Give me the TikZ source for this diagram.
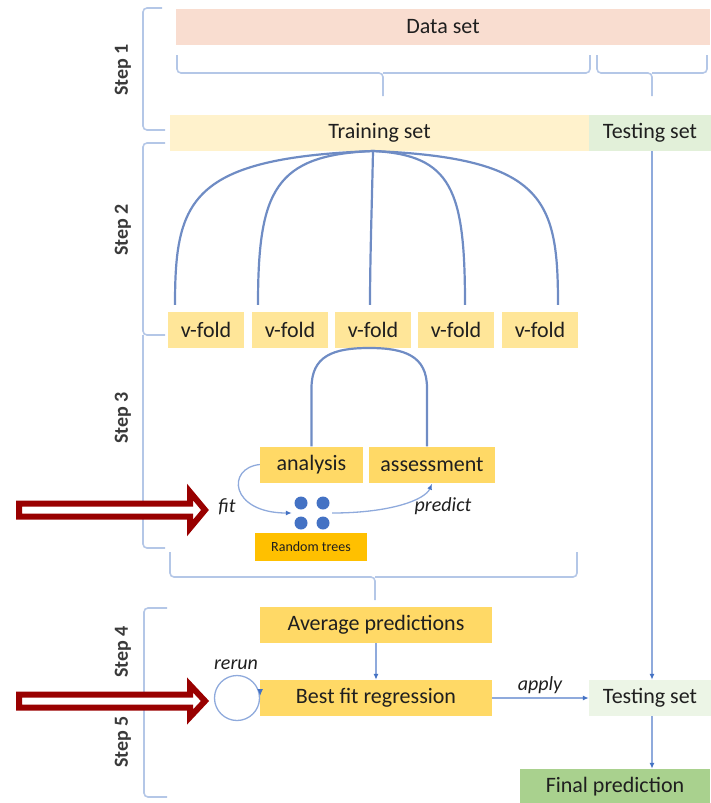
\documentclass[tikz,border=0pt]{standalone}
\usepackage{fontspec}
\setmainfont{Carlito}
\usetikzlibrary{arrows.meta,calc}
\definecolor{dataSalmon}{HTML}{F9DDD0}
\definecolor{trainCream}{HTML}{FFF2CC}
\definecolor{testMint}{HTML}{E2F0D9}
\definecolor{testPale}{HTML}{ECF5E6}
\definecolor{foldGold}{HTML}{FFE699}
\definecolor{stepGold}{HTML}{FFD966}
\definecolor{treeAmber}{HTML}{FFC000}
\definecolor{finalGreen}{HTML}{A9D18E}
\definecolor{splitBlue}{HTML}{6F8CC4}
\definecolor{flowBlue}{HTML}{8FAADC}
\definecolor{tipBlue}{HTML}{4472C4}
\definecolor{frameBlue}{HTML}{B4C7E7}
\definecolor{markRed}{HTML}{990000}
\definecolor{inkGray}{HTML}{1F1F1F}
\definecolor{stepGray}{HTML}{3A3A3A}
\begin{document}
\begin{tikzpicture}[x=1pt,y=-1pt,
  box/.style={inner sep=0pt, minimum height=36pt, text=inkGray,
    font=\fontsize{22}{24}\selectfont},
  tag/.style={inner sep=0pt, text=inkGray, font=\fontsize{20}{22}\selectfont\itshape},
  steplabel/.style={rotate=90, inner sep=0pt, text=stepGray,
    font=\fontsize{20}{22}\selectfont\bfseries},
  bracket/.style={draw=frameBlue, line width=1.6pt, rounded corners=4pt},
  split/.style={draw=splitBlue, line width=2.2pt},
  flow/.style={draw=flowBlue, line width=1.3pt,
    -{Latex[length=6pt,width=5pt,color=tipBlue]}},
  hollow/.style={draw=markRed, line width=6pt, fill=white, line join=miter}]
\useasboundingbox (0,0) rectangle (710,803);

% ---------- boxes ----------
\node[box, fill=dataSalmon, minimum width=534pt] (data) at (443,27) {Data set};
\node[box, fill=trainCream, minimum width=419pt] (train) at (379.5,133) {Training set};
\node[box, fill=testMint, minimum width=122pt] (test) at (650,133) {Testing set};

\foreach \i/\x in {1/206,2/290,3/373,4/456,5/540}
  \node[box, fill=foldGold, minimum width=76pt] (fold\i) at (\x,330) {v-fold};

\node[box, fill=stepGold, minimum width=103pt] (analysis) at (311.5,464.5) {analysis};
\node[box, fill=stepGold, minimum width=126pt] (assessment) at (432,464.5) {assessment};
\node[inner sep=0pt, minimum width=112pt, minimum height=28pt, fill=treeAmber,
  text=inkGray, font=\fontsize{14}{16}\selectfont] (trees) at (311,547) {Random trees};
\node[inner sep=0pt, minimum width=40pt, minimum height=34pt] (forest) at (312,513) {};
\foreach \dx/\dy in {-11/-10,11/-10,-11/10,11/10}
  \fill[tipBlue] ($(forest.center)+(\dx,\dy)$) circle[radius=6.5pt];

\node[box, fill=stepGold, minimum width=232pt] (average) at (376,625) {Average predictions};
\node[box, fill=stepGold, minimum width=232pt] (best) at (376,698) {Best fit regression};
\node[box, fill=testPale, minimum width=122pt] (retest) at (650,698) {Testing set};
\node[box, fill=finalGreen, minimum width=190pt] (final) at (615,787) {Final prediction};
\node[circle, draw=flowBlue, line width=1.3pt, minimum size=45pt, inner sep=0pt]
  (rerun) at (237,698) {};

% ---------- step brackets ----------
\draw[bracket] (162,8) -- (143,8) -- (143,130) -- (165,130);
\draw[bracket] (165,143) -- (143,143) -- (143,335) -- (165,335);
\draw[bracket] (143,335) -- (143,548) -- (165,548);
\draw[bracket] (167,608) -- (144,608) -- (144,797) -- (167,797);
\draw[draw=frameBlue, line width=1.6pt] (144,698) -- (137,698);
\node[steplabel] at (123,70) {Step 1};
\node[steplabel] at (123,230) {Step 2};
\node[steplabel] at (123,418) {Step 3};
\node[steplabel] at (123,652) {Step 4};
\node[steplabel] at (123,742) {Step 5};

% ---------- braces ----------
\draw[bracket] (177,55) -- (177,73) -- (383,73) -- (383,96);
\draw[bracket] (590,55) -- (590,73) -- (383,73);
\draw[bracket] (597,55) -- (597,73) -- (652,73) -- (652,96);
\draw[bracket] (707,55) -- (707,73) -- (652,73);
\draw[bracket] (170,552) -- (170,577) -- (375,577) -- (375,600);
\draw[bracket] (577,552) -- (577,577) -- (375,577);

% ---------- training set split into folds ----------
\coordinate (root) at (373,151);
\draw[split] (root) .. controls (190,158) and (175,200) .. ($(fold1.north)+(-31,-7)$);
\draw[split] (root) .. controls (275,155) and (258,190) .. ($(fold2.north)+(-32,-7)$);
\draw[split] (root) .. controls (372,200) and (370,260) .. ($(fold3.north)+(-3,-7)$);
\draw[split] (root) .. controls (452,155) and (465,190) .. ($(fold4.north)+(9,-7)$);
\draw[split] (root) .. controls (545,158) and (558,200) .. ($(fold5.north)+(18,-7)$);

% ---------- analysis / assessment loop ----------
\draw[split] (analysis.north) -- (311.5,388) .. controls (311.5,356) and (333,348) .. (369,348)
  .. controls (405,348) and (427,356) .. (427,388) -- (assessment.north -| 427,0);

% ---------- fit and predict ----------
\draw[flow] (analysis.west) .. controls (226,468) and (230,513) .. (forest.west);
\draw[flow] (forest.east) .. controls (390,513) and (425,500) .. ($(assessment.south)+(0,1)$);
\node[tag] at (227,507) {fit};
\node[tag] at (443,506) {predict};

% ---------- final steps ----------
\draw[flow] (average) -- (best);
\draw[flow] (best) -- (retest);
\draw[flow] (test.south -| 652,0) -- (retest.north -| 652,0);
\draw[flow] (retest.south -| 652,0) -- (final.north -| 652,0);
\draw[flow, -{Latex[length=7pt,width=6pt,color=tipBlue]}]
  ($(rerun.east)+(0,-9)$) -- ($(rerun.east)+(0,-2)$);
\node[tag] at (236,665) {rerun};
\node[tag] at (540,685) {apply};

% ---------- hollow marker arrows ----------
\draw[hollow] (19,503.5) -- (190,503.5) -- (190,492) -- (205,510) -- (190,528)
  -- (190,516.5) -- (19,516.5) -- cycle;
\draw[hollow] (19,694.5) -- (190,694.5) -- (190,685) -- (205,701) -- (190,717)
  -- (190,707.5) -- (19,707.5) -- cycle;
\end{tikzpicture}
\end{document}
